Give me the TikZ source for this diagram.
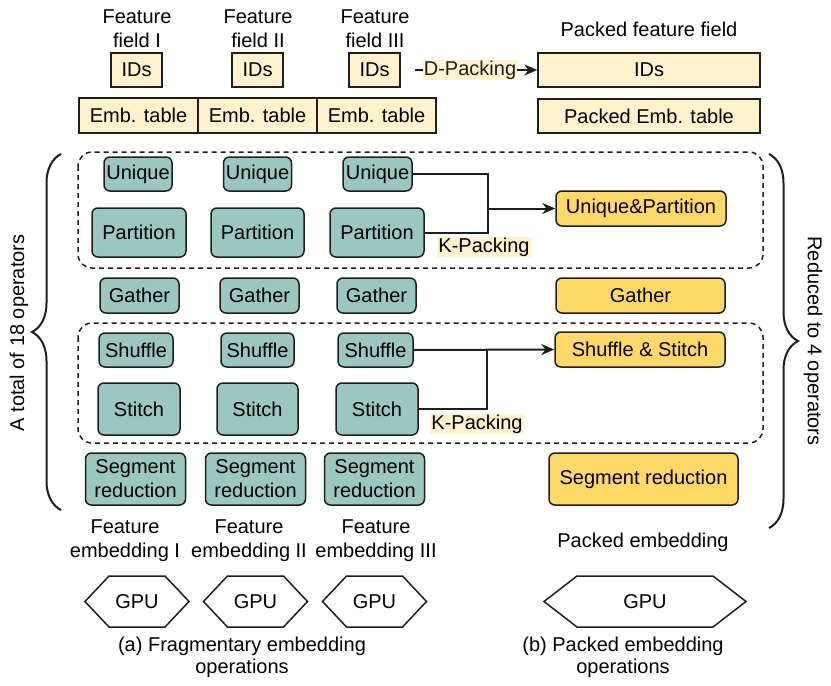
\documentclass[tikz,border=0pt]{standalone}
\usepackage{fontspec}
\setmainfont{Liberation Sans}
\usetikzlibrary{arrows.meta,decorations.pathreplacing}
\definecolor{tealfill}{HTML}{9AC7BF}
\definecolor{lightyel}{HTML}{FFF2CC}
\definecolor{goldfill}{HTML}{FFD966}
\definecolor{edge}{HTML}{1E1E1E}
\newcommand{\gpuhex}[5]{%
  \node[txt] (#1) at (#2,#3) {GPU};
  \draw[line width=1.5pt,edge] (#2-#4,#3) -- (#2-#4+#5,#3-25.5) -- (#2+#4-#5,#3-25.5) -- (#2+#4,#3) -- (#2+#4-#5,#3+25.5) -- (#2-#4+#5,#3+25.5) -- cycle;
}
\begin{document}
\begin{tikzpicture}[x=1pt,y=-1pt,
  txt/.style={font=\fontsize{20}{24}\selectfont,align=center,inner sep=0pt},
  idbox/.style={draw=edge,line width=1.5pt,fill=lightyel,font=\fontsize{20}{24}\selectfont,inner sep=1pt,minimum height=34pt},
  tealbox/.style={draw=edge,line width=1.5pt,fill=tealfill,rounded corners=6pt,font=\fontsize{20}{24}\selectfont,align=center,inner sep=1pt},
  goldbox/.style={draw=edge,line width=1.5pt,fill=goldfill,rounded corners=6pt,font=\fontsize{20}{24}\selectfont,align=center,inner sep=1pt},
  conn/.style={line width=2pt,edge},
  tip/.style={-{Stealth[length=13pt,width=11pt]}},
  dashbox/.style={line width=1.5pt,edge,dash pattern=on 5pt off 4pt,rounded corners=14pt},
  lbl/.style={fill=lightyel,font=\fontsize{20}{24}\selectfont,inner sep=1pt},
  bracestyle/.style={line width=2pt,edge,decorate,decoration={brace,amplitude=29pt,aspect=0.5}}
]
\useasboundingbox (0,0) rectangle (831,686);

% top labels
\node[txt] (ffI) at (137,29) {Feature\\field I};
\node[txt] (ffII) at (258,29) {Feature\\field II};
\node[txt] (ffIII) at (375,29) {Feature\\field III};
\node[txt] (pff) at (649,29) {Packed feature field};

% IDs
\node[idbox,minimum width=51pt] (idsI) at (136.5,70) {IDs};
\node[idbox,minimum width=51pt] (idsII) at (257.5,70) {IDs};
\node[idbox,minimum width=51pt] (idsIII) at (374.5,70) {IDs};
\node[idbox,minimum width=222pt] (pids) at (649,70) {IDs};

% emb tables
\node[idbox,minimum width=119pt,minimum height=35pt] (embI) at (138.5,115.5) {Emb. table};
\node[idbox,minimum width=119pt,minimum height=35pt] (embII) at (257.5,115.5) {Emb. table};
\node[idbox,minimum width=119pt,minimum height=35pt] (embIII) at (376.5,115.5) {Emb. table};
\node[idbox,minimum width=222pt] (pemb) at (649,116) {Packed Emb. table};

% D-Packing
\coordinate (dstart) at (415,70);
\draw[conn,tip] (dstart) -- node[lbl,pos=0.45] (dpack) {D-Packing} (pids.west);

% dashed groups
\draw[dashbox] (78,152) rectangle (763,268);
\draw[dashbox] (78,323) rectangle (763,443);

% Unique
\node[tealbox,minimum width=68pt,minimum height=34pt] (uI) at (138,174) {Unique};
\node[tealbox,minimum width=68pt,minimum height=34pt] (uII) at (257.5,174) {Unique};
\node[tealbox,minimum width=69pt,minimum height=34pt] (uIII) at (377.5,174) {Unique};
% Partition
\node[tealbox,minimum width=94pt,minimum height=49pt] (pI) at (139,232.5) {Partition};
\node[tealbox,minimum width=93pt,minimum height=49pt] (pII) at (257.5,232.5) {Partition};
\node[tealbox,minimum width=94pt,minimum height=49pt] (pIII) at (377,232.5) {Partition};
% Gather
\node[tealbox,minimum width=79pt,minimum height=35pt] (gI) at (139.5,295.5) {Gather};
\node[tealbox,minimum width=79pt,minimum height=35pt] (gII) at (259.5,295.5) {Gather};
\node[tealbox,minimum width=79pt,minimum height=35pt] (gIII) at (376.5,295.5) {Gather};
% Shuffle
\node[tealbox,minimum width=74pt,minimum height=34pt] (sI) at (136,350) {Shuffle};
\node[tealbox,minimum width=73pt,minimum height=34pt] (sII) at (257.5,350) {Shuffle};
\node[tealbox,minimum width=75pt,minimum height=34pt] (sIII) at (375.5,350) {Shuffle};
% Stitch
\node[tealbox,minimum width=82pt,minimum height=52pt] (stI) at (139,409) {Stitch};
\node[tealbox,minimum width=81pt,minimum height=52pt] (stII) at (257.5,409) {Stitch};
\node[tealbox,minimum width=82pt,minimum height=52pt] (stIII) at (377,409) {Stitch};
% Segment reduction
\node[tealbox,minimum width=100pt,minimum height=52pt] (segI) at (135.5,479) {Segment\\reduction};
\node[tealbox,minimum width=100pt,minimum height=52pt] (segII) at (255.5,479) {Segment\\reduction};
\node[tealbox,minimum width=100pt,minimum height=52pt] (segIII) at (374.5,479) {Segment\\reduction};

% packed operators
\node[goldbox,minimum width=170pt,minimum height=35pt] (up) at (641,208.5) {Unique\&Partition};
\node[goldbox,minimum width=169pt,minimum height=35pt] (gp) at (640.5,295.5) {Gather};
\node[goldbox,minimum width=170pt,minimum height=35pt] (ss) at (640,349.5) {Shuffle \& Stitch};
\node[goldbox,minimum width=189pt,minimum height=52pt] (sr) at (643.5,479) {Segment reduction};

% K-Packing connectors
\coordinate (j1) at (488,208.5);
\draw[conn] (uIII.east) -| (j1);
\draw[conn] (pIII.east) -| (j1);
\draw[conn,tip] (j1) -- (up.west);
\node[lbl] (kp1) at (484,247) {K-Packing};

\coordinate (j2) at (487,349.5);
\draw[conn,tip] (sIII.east) -- (ss.west);
\draw[conn] (stIII.east) -| (j2);
\node[lbl] (kp2) at (477,424) {K-Packing};

% braces
\coordinate (lbA) at (61,510);
\coordinate (lbB) at (61,154);
\draw[bracestyle] (lbA) -- (lbB);
\node[txt,rotate=90] (tot) at (19,333) {A total of 18 operators};
\coordinate (rbA) at (769,154);
\coordinate (rbB) at (769,528);
\draw[bracestyle] (rbA) -- (rbB);
\node[txt,rotate=-90] (red) at (813,341) {Reduced to 4 operators};

% bottom labels
\node[txt] (feI) at (125,541) {Feature\\embedding I};
\node[txt] (feII) at (249,541) {Feature\\embedding II};
\node[txt] (feIII) at (376,541) {Feature\\embedding III};
\node[txt] (pe) at (643,542) {Packed embedding};

% GPUs
\gpuhex{gpuI}{137}{601.5}{52}{24}
\gpuhex{gpuII}{255.5}{601.5}{52}{24}
\gpuhex{gpuIII}{374.5}{601.5}{52}{24}
\gpuhex{gpuP}{645}{601.5}{101}{33}

% captions
\node[txt,font=\fontsize{20}{22}\selectfont] (capa) at (242,657.5) {(a) Fragmentary embedding\\operations};
\node[txt,font=\fontsize{20}{22}\selectfont] (capb) at (623,657.5) {(b) Packed embedding\\operations};
\end{tikzpicture}
\end{document}
